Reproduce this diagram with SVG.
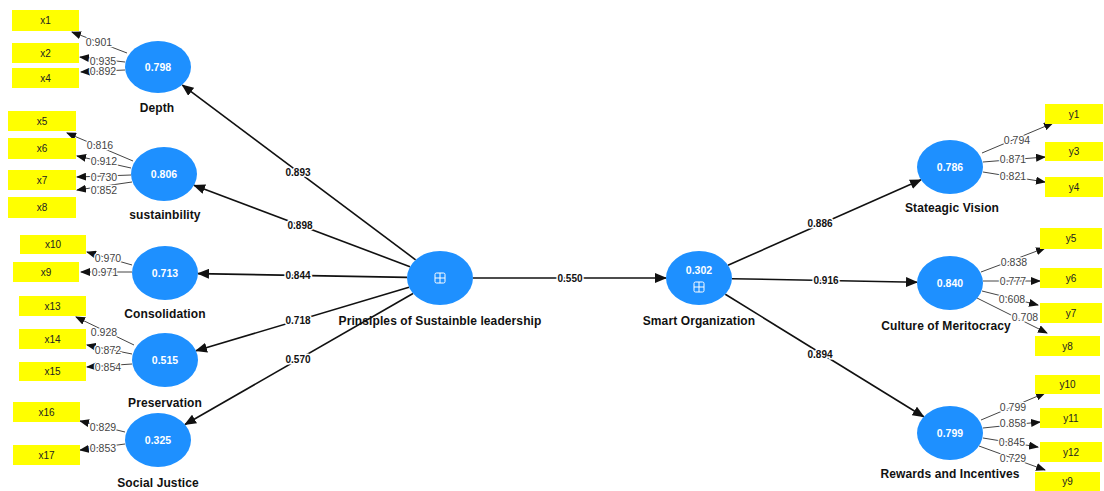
<svg xmlns="http://www.w3.org/2000/svg" width="1104" height="491" viewBox="0 0 1104 491">
<style>
.bg{fill:#ffffff}
.lv{fill:#1e90ff}
.mv{fill:#ffff00}
.vt{font-family:"Liberation Sans",Arial,sans-serif;font-size:10.5px;fill:#ffffff;text-anchor:middle;dominant-baseline:central;font-weight:bold}
.nl{font-family:"Liberation Sans",Arial,sans-serif;font-size:12px;letter-spacing:0.1px;fill:#111;text-anchor:middle;dominant-baseline:central;font-weight:bold}
.bt{font-family:"Liberation Sans",Arial,sans-serif;font-size:10px;fill:#222;text-anchor:middle;dominant-baseline:central}
.main{stroke:#111;stroke-width:1.6;fill:none;marker-end:url(#ah)}
.ind{stroke:#444;stroke-width:1;fill:none;marker-end:url(#ahs)}
.el{font-family:"Liberation Sans",Arial,sans-serif;font-size:10px;fill:#111;text-anchor:middle;dominant-baseline:central;font-weight:bold;stroke:#fff;stroke-width:3;paint-order:stroke}
.il{font-family:"Liberation Sans",Arial,sans-serif;font-size:10.5px;fill:#444;text-anchor:middle;dominant-baseline:central;stroke:#fff;stroke-width:2.5;paint-order:stroke}
.ic{stroke:#ffffff;stroke-width:1;fill:none}
</style>
<defs>
<marker id="ah" markerUnits="userSpaceOnUse" markerWidth="12" markerHeight="10" refX="11" refY="5" orient="auto"><path d="M0,0 L12,5 L0,10 Z" fill="#111"/></marker>
<marker id="ahs" markerUnits="userSpaceOnUse" markerWidth="10" markerHeight="8" refX="9" refY="4" orient="auto"><path d="M0,0 L10,4 L0,8 Z" fill="#111"/></marker>
</defs>
<rect class="bg" x="0" y="0" width="1104" height="491"/>

<g id="connectors">
<line class="main" x1="415.6" y1="259.8" x2="182.4" y2="85.2"/>
<line class="main" x1="410" y1="266.7" x2="194" y2="185.3"/>
<line class="main" x1="407" y1="277.4" x2="198" y2="273.6"/>
<line class="main" x1="409" y1="287.2" x2="196" y2="350.8"/>
<line class="main" x1="413" y1="293.5" x2="185" y2="424.5"/>
<line class="main" x1="473" y1="278" x2="666" y2="278"/>
<line class="main" x1="728" y1="265.2" x2="921" y2="179.8"/>
<line class="main" x1="732" y1="278.7" x2="917" y2="282.3"/>
<line class="main" x1="725.3" y1="294.3" x2="923.7" y2="416.7"/>

<line class="ind" x1="127" y1="53" x2="72" y2="32"/>
<line class="ind" x1="125" y1="62" x2="80" y2="57"/>
<line class="ind" x1="125" y1="70" x2="81" y2="72"/>
<line class="ind" x1="133" y1="161" x2="67" y2="133"/>
<line class="ind" x1="131" y1="168" x2="77" y2="156"/>
<line class="ind" x1="131" y1="175" x2="77" y2="177"/>
<line class="ind" x1="132" y1="182" x2="77" y2="190"/>
<line class="ind" x1="132" y1="265" x2="87" y2="252"/>
<line class="ind" x1="132" y1="272" x2="81" y2="272"/>
<line class="ind" x1="134" y1="345" x2="76" y2="317"/>
<line class="ind" x1="132" y1="354" x2="87" y2="345"/>
<line class="ind" x1="132" y1="364" x2="87" y2="367"/>
<line class="ind" x1="125" y1="432" x2="80" y2="421"/>
<line class="ind" x1="125" y1="444" x2="80" y2="450"/>

<line class="ind" x1="982" y1="153" x2="1053" y2="123"/>
<line class="ind" x1="983" y1="162" x2="1045" y2="157"/>
<line class="ind" x1="983" y1="172" x2="1045" y2="182"/>
<line class="ind" x1="981" y1="272" x2="1045" y2="248"/>
<line class="ind" x1="983" y1="281" x2="1040" y2="281"/>
<line class="ind" x1="982" y1="291" x2="1038" y2="305"/>
<line class="ind" x1="977" y1="298" x2="1047" y2="333"/>
<line class="ind" x1="981" y1="420" x2="1045" y2="393"/>
<line class="ind" x1="983" y1="428" x2="1040" y2="422"/>
<line class="ind" x1="983" y1="438" x2="1038" y2="447"/>
<line class="ind" x1="979" y1="446" x2="1045" y2="470"/>

<text class="el" x="298" y="172">0.893</text>
<text class="el" x="300" y="225.5">0.898</text>
<text class="el" x="298" y="275.5">0.844</text>
<text class="el" x="298" y="320.5">0.718</text>
<text class="el" x="298" y="359">0.570</text>
<text class="el" x="570" y="278">0.550</text>
<text class="el" x="820" y="223.5">0.886</text>
<text class="el" x="826" y="280.5">0.916</text>
<text class="el" x="820" y="354">0.894</text>

<text class="il" x="99" y="42">0.901</text>
<text class="il" x="103" y="60.5">0.935</text>
<text class="il" x="103" y="71">0.892</text>
<text class="il" x="100" y="145">0.816</text>
<text class="il" x="104" y="161">0.912</text>
<text class="il" x="104" y="177">0.730</text>
<text class="il" x="104" y="190">0.852</text>
<text class="il" x="108" y="258">0.970</text>
<text class="il" x="105" y="272">0.971</text>
<text class="il" x="104" y="332">0.928</text>
<text class="il" x="108" y="350">0.872</text>
<text class="il" x="108" y="367">0.854</text>
<text class="il" x="103" y="427">0.829</text>
<text class="il" x="103" y="448">0.853</text>

<text class="il" x="1017" y="140">0.794</text>
<text class="il" x="1013" y="159">0.871</text>
<text class="il" x="1013" y="176">0.821</text>
<text class="il" x="1014" y="262">0.838</text>
<text class="il" x="1013" y="281">0.777</text>
<text class="il" x="1012" y="299">0.608</text>
<text class="il" x="1025" y="317">0.708</text>
<text class="il" x="1013" y="407">0.799</text>
<text class="il" x="1013" y="423">0.858</text>
<text class="il" x="1012" y="442">0.845</text>
<text class="il" x="1013" y="458">0.729</text>
</g>

<g id="depth"><ellipse class="lv" cx="158" cy="67" rx="33" ry="26"/><text class="vt" x="158" y="67">0.798</text><text class="nl" x="157" y="108">Depth</text></g>
<g id="sustainbility"><ellipse class="lv" cx="164" cy="174" rx="33" ry="27"/><text class="vt" x="164" y="174">0.806</text><text class="nl" x="165" y="215">sustainbility</text></g>
<g id="consolidation"><ellipse class="lv" cx="165" cy="273" rx="33" ry="27"/><text class="vt" x="165" y="273">0.713</text><text class="nl" x="165" y="314">Consolidation</text></g>
<g id="preservation"><ellipse class="lv" cx="165" cy="360" rx="33" ry="27"/><text class="vt" x="165" y="360">0.515</text><text class="nl" x="165" y="403">Preservation</text></g>
<g id="social-justice"><ellipse class="lv" cx="158" cy="440" rx="33" ry="27"/><text class="vt" x="158" y="440">0.325</text><text class="nl" x="158" y="483">Social Justice</text></g>

<g id="psl"><ellipse class="lv" cx="440" cy="278" rx="33" ry="27"/><rect class="ic" x="435" y="273" width="10" height="10" rx="1.5"/><line class="ic" x1="440" y1="273" x2="440" y2="283"/><line class="ic" x1="435" y1="278" x2="445" y2="278"/><text class="nl" x="440" y="321">Prinsiples of Sustainble leadership</text></g>
<g id="smart-organization"><ellipse class="lv" cx="699" cy="278" rx="33" ry="27"/><text class="vt" x="699" y="270">0.302</text><rect class="ic" x="694" y="282" width="10" height="10" rx="1.5"/><line class="ic" x1="699" y1="282" x2="699" y2="292"/><line class="ic" x1="694" y1="287" x2="704" y2="287"/><text class="nl" x="699" y="321">Smart Organization</text></g>

<g id="stateagic-vision"><ellipse class="lv" cx="950" cy="167" rx="33" ry="27"/><text class="vt" x="950" y="167">0.786</text><text class="nl" x="952" y="208">Stateagic Vision</text></g>
<g id="culture-of-meritocracy"><ellipse class="lv" cx="950" cy="283" rx="33" ry="27"/><text class="vt" x="950" y="283">0.840</text><text class="nl" x="946" y="326">Culture of Meritocracy</text></g>
<g id="rewards-and-incentives"><ellipse class="lv" cx="950" cy="433" rx="33" ry="27"/><text class="vt" x="950" y="433">0.799</text><text class="nl" x="950" y="474">Rewards and Incentives</text></g>

<g id="x1"><rect class="mv" x="12" y="10" width="67" height="21"/><text class="bt" x="45.5" y="20.5">x1</text></g>
<g id="x2"><rect class="mv" x="12" y="43" width="67" height="20"/><text class="bt" x="45.5" y="53">x2</text></g>
<g id="x4"><rect class="mv" x="12" y="68" width="67" height="20"/><text class="bt" x="45.5" y="78">x4</text></g>
<g id="x5"><rect class="mv" x="8" y="111" width="68" height="20"/><text class="bt" x="42" y="121">x5</text></g>
<g id="x6"><rect class="mv" x="8" y="138" width="68" height="21"/><text class="bt" x="42" y="148.5">x6</text></g>
<g id="x7"><rect class="mv" x="8" y="170" width="68" height="20"/><text class="bt" x="42" y="180">x7</text></g>
<g id="x8"><rect class="mv" x="8" y="197" width="68" height="21"/><text class="bt" x="42" y="207.5">x8</text></g>
<g id="x10"><rect class="mv" x="20" y="235" width="66" height="19"/><text class="bt" x="53" y="244.5">x10</text></g>
<g id="x9"><rect class="mv" x="13" y="262" width="66" height="20"/><text class="bt" x="46" y="272">x9</text></g>
<g id="x13"><rect class="mv" x="19" y="296" width="67" height="20"/><text class="bt" x="52.5" y="306">x13</text></g>
<g id="x14"><rect class="mv" x="19" y="329" width="67" height="20"/><text class="bt" x="52.5" y="339">x14</text></g>
<g id="x15"><rect class="mv" x="19" y="362" width="67" height="19"/><text class="bt" x="52.5" y="371.5">x15</text></g>
<g id="x16"><rect class="mv" x="13" y="402" width="67" height="20"/><text class="bt" x="46.5" y="412">x16</text></g>
<g id="x17"><rect class="mv" x="13" y="445" width="67" height="20"/><text class="bt" x="46.5" y="455">x17</text></g>

<g id="y1"><rect class="mv" x="1045" y="104" width="58" height="20"/><text class="bt" x="1074" y="114">y1</text></g>
<g id="y3"><rect class="mv" x="1045" y="142" width="58" height="19"/><text class="bt" x="1074" y="151.5">y3</text></g>
<g id="y4"><rect class="mv" x="1045" y="177" width="58" height="20"/><text class="bt" x="1074" y="187">y4</text></g>
<g id="y5"><rect class="mv" x="1040" y="228" width="62" height="21"/><text class="bt" x="1071" y="238.5">y5</text></g>
<g id="y6"><rect class="mv" x="1040" y="268" width="62" height="20"/><text class="bt" x="1071" y="278">y6</text></g>
<g id="y7"><rect class="mv" x="1040" y="303" width="62" height="20"/><text class="bt" x="1071" y="313">y7</text></g>
<g id="y8"><rect class="mv" x="1035" y="336" width="65" height="20"/><text class="bt" x="1067.5" y="346">y8</text></g>
<g id="y10"><rect class="mv" x="1035" y="375" width="65" height="19"/><text class="bt" x="1067.5" y="384.5">y10</text></g>
<g id="y11"><rect class="mv" x="1040" y="408" width="62" height="20"/><text class="bt" x="1071" y="418">y11</text></g>
<g id="y12"><rect class="mv" x="1040" y="442" width="62" height="20"/><text class="bt" x="1071" y="452">y12</text></g>
<g id="y9"><rect class="mv" x="1035" y="472" width="65" height="19"/><text class="bt" x="1067.5" y="481.5">y9</text></g>
</svg>
